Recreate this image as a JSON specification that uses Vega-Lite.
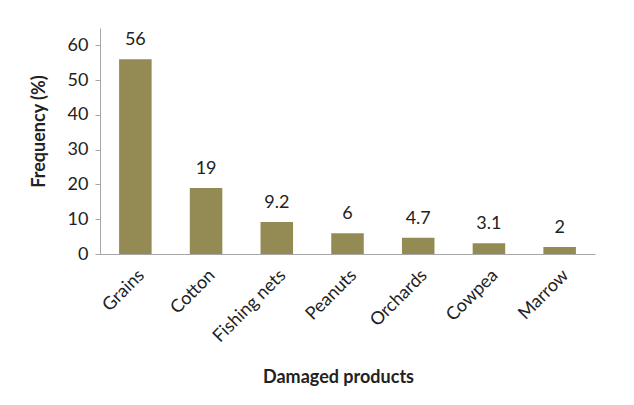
{
  "$schema": "https://vega.github.io/schema/vega-lite/v6.json",
  "autosize": "none",
  "width": 495,
  "height": 226,
  "padding": {"left": 100, "top": 28, "right": 39, "bottom": 151},
  "background": "white",
  "data": {"values": [
    {"product": "Grains", "freq": 56, "label": "56"},
    {"product": "Cotton", "freq": 19, "label": "19"},
    {"product": "Fishing nets", "freq": 9.2, "label": "9.2"},
    {"product": "Peanuts", "freq": 6, "label": "6"},
    {"product": "Orchards", "freq": 4.7, "label": "4.7"},
    {"product": "Cowpea", "freq": 3.1, "label": "3.1"},
    {"product": "Marrow", "freq": 2, "label": "2"}
  ]},
  "encoding": {
    "x": {
      "field": "product", "type": "nominal", "sort": null,
      "scale": {"paddingInner": 0.54, "paddingOuter": 0.27},
      "axis": {
        "title": "Damaged products", "labelAngle": -45, "labelAlign": "right", "labelBaseline": "top",
        "labelPadding": 12, "ticks": false, "domainColor": "#a6a6a6",
        "labelFont": "Lato", "labelFontSize": 18, "labelColor": "#222222",
        "titleFont": "Lato", "titleFontSize": 18, "titleFontWeight": "bold", "titleColor": "#222222",
        "titleX": 238, "titleY": 128, "titleBaseline": "alphabetic"
      }
    },
    "y": {
      "field": "freq", "type": "quantitative",
      "scale": {"domain": [0, 65], "nice": false},
      "axis": {
        "title": "Frequency (%)", "values": [0, 10, 20, 30, 40, 50, 60], "grid": false,
        "domainColor": "#a6a6a6", "tickColor": "#a6a6a6", "tickSize": 5, "labelPadding": 7,
        "labelFont": "Lato", "labelFontSize": 18, "labelColor": "#222222",
        "titleFont": "Lato", "titleFontSize": 18, "titleFontWeight": "bold", "titleColor": "#222222",
        "titleX": -56, "titleY": 103, "titleAlign": "center", "titleBaseline": "alphabetic"
      }
    }
  },
  "layer": [
    {"mark": {"type": "bar", "color": "#948a54"}},
    {"mark": {"type": "text", "dy": -10, "font": "Lato", "fontSize": 18, "color": "#222222", "baseline": "bottom"},
     "encoding": {"text": {"field": "label"}}}
  ],
  "config": {"view": {"stroke": null}}
}
